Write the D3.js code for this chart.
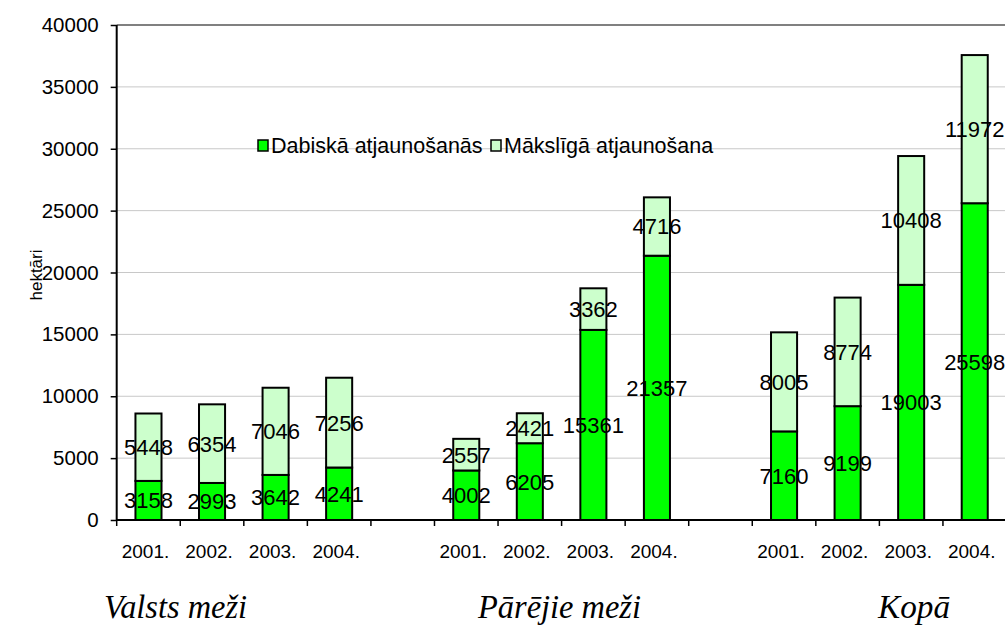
<!DOCTYPE html>
<html><head><meta charset="utf-8">
<script src="https://cdn.jsdelivr.net/npm/d3@7"></script>
<style>
body{margin:0;background:#fff;}
svg{display:block;font-family:"Liberation Sans",Arial,sans-serif;}
</style></head>
<body>
<svg id="c" width="1005" height="643"></svg>
<script>
const years = ["2001.","2002.","2003.","2004."];
const groups = ["Valsts meži","Pārējie meži","Kopā"];
const seriesNames = ["Dabiskā atjaunošanās","Mākslīgā atjaunošana"];
const natural    = [3158,2993,3642,4241, 4002,6205,15361,21357, 7160,9199,19003,25598];
const artificial = [5448,6354,7046,7256, 2557,2421,3362,4716, 8005,8774,10408,11972];
const yTicks = [0,5000,10000,15000,20000,25000,30000,35000,40000];
const colors = ["#00ff00","#ccffcc"];

(function(){
const svg = d3.select("#c");
const pL = 116.7, pR = 1006.5, pT = 25, pB = 520;
const nSlots = groups.length*years.length + groups.length - 1;
const x = d3.scaleBand().domain(d3.range(nSlots)).range([pL,pR]).padding(0);
const y = d3.scaleLinear().domain([0,40000]).range([pB,pT]);

const rows = [];
groups.forEach((g,gi)=>years.forEach((yr,yi)=>{
  const k = gi*years.length+yi;
  rows.push({slot: gi*(years.length+1)+yi, year: yr, nat: natural[k], art: artificial[k]});
}));

// gridlines
svg.append("g").selectAll("line").data(yTicks.filter(t=>t>0 && t<40000)).join("line")
  .attr("x1",pL).attr("x2",1005).attr("y1",d=>y(d)).attr("y2",d=>y(d))
  .attr("stroke","#c8c8c8").attr("stroke-width",1);
svg.append("line").attr("x1",pL).attr("x2",1005).attr("y1",y(40000)).attr("y2",y(40000))
  .attr("stroke","#808080").attr("stroke-width",2);

// bars
const bw = x.bandwidth()*0.41;
const bars = svg.append("g");
rows.forEach(r=>{
  const cx = x(r.slot)+x.bandwidth()/2;
  bars.append("rect").attr("x",cx-bw/2).attr("width",bw)
    .attr("y",y(r.nat)).attr("height",y(0)-y(r.nat))
    .attr("fill",colors[0]).attr("stroke","#000").attr("stroke-width",2);
  bars.append("rect").attr("x",cx-bw/2).attr("width",bw)
    .attr("y",y(r.nat+r.art)).attr("height",y(r.nat)-y(r.nat+r.art))
    .attr("fill",colors[1]).attr("stroke","#000").attr("stroke-width",2);
});

// y axis
const ya = svg.append("g").attr("transform",`translate(${pL},0)`)
  .call(d3.axisLeft(y).tickValues(yTicks).tickSize(6).tickPadding(12).tickFormat(d3.format("d")));
ya.select(".domain").attr("stroke","#000").attr("stroke-width",2).attr("d",`M0,${pT}V${pB}`);
ya.selectAll(".tick line").attr("stroke","#000").attr("stroke-width",1.5);
ya.selectAll(".tick text").attr("font-size",20.5).attr("fill","#000").attr("font-family","Liberation Sans, Arial, sans-serif");

// x axis
svg.append("line").attr("x1",pL).attr("x2",1005).attr("y1",pB).attr("y2",pB)
  .attr("stroke","#000").attr("stroke-width",2);
svg.append("g").selectAll("line").data(d3.range(nSlots+1)).join("line")
  .attr("x1",d=>pL+d*x.step()).attr("x2",d=>pL+d*x.step())
  .attr("y1",pB).attr("y2",pB+6).attr("stroke","#000").attr("stroke-width",1.5);
svg.append("g").selectAll("text").data(rows).join("text")
  .attr("x",d=>x(d.slot)+x.bandwidth()/2-3).attr("y",558)
  .attr("text-anchor","middle").attr("font-size",19).attr("fill","#000").text(d=>d.year);

// value labels
const lab = svg.append("g").attr("font-size",22).attr("fill","#000").attr("text-anchor","middle");
rows.forEach(r=>{
  const cx = x(r.slot)+x.bandwidth()/2;
  lab.append("text").attr("x",cx).attr("y",y(r.nat/2)).attr("dy","0.36em").text(r.nat);
  lab.append("text").attr("x",cx).attr("y",y(r.nat+r.art/2)).attr("dy","0.36em").text(r.art);
});

// y label
svg.append("text").attr("transform","translate(42,275) rotate(-90)")
  .attr("text-anchor","middle").attr("font-size",17).attr("fill","#000").text("hektāri");

// legend
const lg = svg.append("g");
const legItems = [{x:258, c:colors[0], t:seriesNames[0]},{x:491, c:colors[1], t:seriesNames[1]}];
legItems.forEach(it=>{
  lg.append("rect").attr("x",it.x).attr("y",140).attr("width",10).attr("height",11)
    .attr("fill",it.c).attr("stroke","#000").attr("stroke-width",1.5);
  lg.append("text").attr("x",it.x+13).attr("y",153).attr("font-size",21.5).attr("fill","#000").text(it.t);
});

// group labels
const gx = [[104,143],[478,163],[878,72]];
svg.append("g").selectAll("text").data(groups).join("text")
  .attr("x",(d,i)=>gx[i][0]).attr("y",618)
  .attr("textLength",(d,i)=>gx[i][1]).attr("lengthAdjust","spacingAndGlyphs")
  .attr("font-family","Liberation Serif, Times New Roman, serif").attr("font-style","italic")
  .attr("font-size",34).attr("fill","#000").text(d=>d);
})();
</script>
</body></html>
